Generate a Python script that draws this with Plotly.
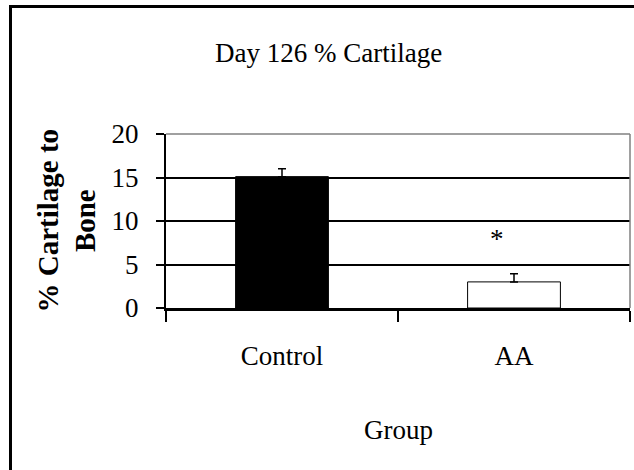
import plotly.graph_objects as go

# Data
groups = ["Control", "AA"]
cartilage_pct = [15.1, 3.0]
sem = [0.9, 0.95]
bar_fills = ["black", "white"]
y_ticks = [0, 5, 10, 15, 20]

W, H = 634, 470
ML, MR, MT, MB = 166, 4, 134, 162
PW, PH = W - ML - MR, H - MT - MB
FONT = "Liberation Serif"


def px(x):
    return (x - ML) / PW


def py(y):
    return (H - MB - y) / PH


fig = go.Figure()
fig.add_trace(go.Bar(
    x=groups,
    y=cartilage_pct,
    marker=dict(color=bar_fills, line=dict(color="black", width=1)),
    error_y=dict(type="data", symmetric=False, array=sem, arrayminus=[0, 0],
                 color="black", thickness=1.5, width=4),
    width=0.4,
    showlegend=False,
))

annotations = [
    dict(text="Day 126 % Cartilage", x=px(328), y=py(53), xref="paper", yref="paper",
         showarrow=False, xanchor="center", yanchor="middle",
         font=dict(family=FONT, size=27, color="black")),
    dict(text="Group", x=0.5, y=py(430), xref="paper", yref="paper",
         showarrow=False, xanchor="center", yanchor="middle",
         font=dict(family=FONT, size=27, color="black")),
    dict(text="<b>% Cartilage to<br>Bone</b>", x=px(66.5), y=0.5, xref="paper", yref="paper",
         showarrow=False, xanchor="center", yanchor="middle", textangle=-90,
         font=dict(family=FONT, size=29, color="black")),
    dict(text="*", x="AA", y=7.9, xref="x", yref="y", xshift=-17,
         showarrow=False, xanchor="center", yanchor="middle",
         font=dict(family=FONT, size=27, color="black")),
]

shapes = [
    # plot-area border (top and right) in gray
    dict(type="line", xref="paper", yref="paper", x0=0, x1=1, y0=1, y1=1,
         line=dict(color="#808080", width=1.5), layer="above"),
    dict(type="line", xref="paper", yref="paper", x0=1, x1=1, y0=0, y1=1,
         line=dict(color="#808080", width=1.5), layer="above"),
    # outer frame: top and left edges
    dict(type="line", xref="paper", yref="paper", x0=px(9), x1=px(640), y0=py(6.5), y1=py(6.5),
         line=dict(color="black", width=3)),
    dict(type="line", xref="paper", yref="paper", x0=px(10.5), x1=px(10.5), y0=py(6.5), y1=py(480),
         line=dict(color="black", width=3)),
]

fig.update_layout(
    width=W, height=H,
    margin=dict(l=ML, r=MR, t=MT, b=MB, autoexpand=False),
    paper_bgcolor="white", plot_bgcolor="white",
    bargap=0.6,
    annotations=annotations,
    shapes=shapes,
    font=dict(family=FONT, size=27, color="black"),
)
fig.update_xaxes(
    type="category", showline=True, linecolor="black", linewidth=3,
    ticks="outside", tickson="boundaries", ticklen=11, tickwidth=2, tickcolor="black",
    showgrid=False, ticklabelstandoff=22,
    tickfont=dict(family=FONT, size=27, color="black"),
)
fig.update_yaxes(
    range=[0, 20], tickvals=y_ticks, showline=True, linecolor="black", linewidth=2,
    ticks="outside", ticklen=8, tickwidth=2, tickcolor="black",
    showgrid=True, gridcolor="black", gridwidth=1.5, zeroline=False,
    ticklabelstandoff=12,
    tickfont=dict(family=FONT, size=27, color="black"),
)

fig.write_html("out.html")
